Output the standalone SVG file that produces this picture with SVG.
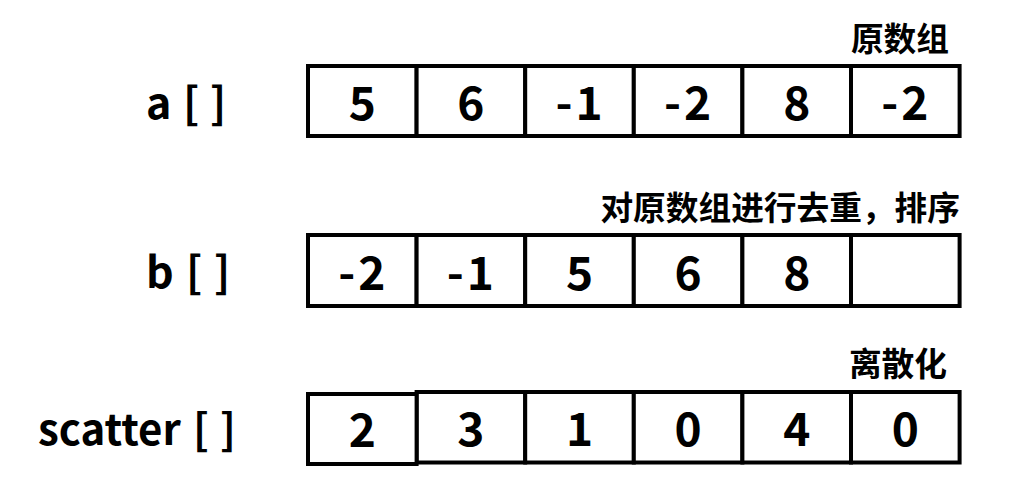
<svg xmlns="http://www.w3.org/2000/svg" width="1024" height="490" viewBox="0 0 1024 490">
<style>
.cell{fill:#fff;stroke:#000;stroke-width:4}
.num{font-family:"Noto Sans CJK SC","Noto Sans",sans-serif;font-weight:bold;font-size:46px;text-anchor:middle;fill:#000}
.lbl{font-family:"Noto Sans CJK SC","Noto Sans",sans-serif;font-weight:bold;font-size:43px;fill:#000}
.cap{font-family:"Noto Sans CJK SC",sans-serif;font-weight:bold;font-size:32.7px;text-anchor:end;fill:#000}
</style>
<rect width="1024" height="490" fill="#fff"/>
<g id="row-a">
<text class="lbl" y="119"><tspan x="146">a</tspan><tspan x="183">[</tspan><tspan x="210">]</tspan></text>
<text class="cap" x="949" y="51">原数组</text>
<rect class="cell" x="308" y="66" width="108.6" height="70"/>
<rect class="cell" x="416.6" y="66" width="108.6" height="70"/>
<rect class="cell" x="525.2" y="66" width="108.6" height="70"/>
<rect class="cell" x="633.8" y="66" width="108.6" height="70"/>
<rect class="cell" x="742.4" y="66" width="108.6" height="70"/>
<rect class="cell" x="851" y="66" width="108.6" height="70"/>
<text class="num" x="362.3" y="120">5</text>
<text class="num" x="470.9" y="120">6</text>
<text class="num" x="580.5" y="120" letter-spacing="3">-1</text>
<text class="num" x="689.1" y="120" letter-spacing="3">-2</text>
<text class="num" x="796.7" y="120">8</text>
<text class="num" x="906.3" y="120" letter-spacing="3">-2</text>
</g>
<g id="row-b">
<text class="lbl" y="288"><tspan x="146">b</tspan><tspan x="186">[</tspan><tspan x="214">]</tspan></text>
<text class="cap" x="960" y="220">对原数组进行去重，排序</text>
<rect class="cell" x="308" y="235" width="108.6" height="71"/>
<rect class="cell" x="416.6" y="235" width="108.6" height="71"/>
<rect class="cell" x="525.2" y="235" width="108.6" height="71"/>
<rect class="cell" x="633.8" y="235" width="108.6" height="71"/>
<rect class="cell" x="742.4" y="235" width="108.6" height="71"/>
<rect class="cell" x="851" y="235" width="108.6" height="71"/>
<text class="num" x="363.3" y="290" letter-spacing="3">-2</text>
<text class="num" x="471.9" y="290" letter-spacing="3">-1</text>
<text class="num" x="579.5" y="290">5</text>
<text class="num" x="688.1" y="290">6</text>
<text class="num" x="796.7" y="290">8</text>
</g>
<g id="row-scatter">
<text class="lbl" y="445" style="font-size:42px"><tspan x="38">scatter</tspan><tspan x="193">[</tspan><tspan x="220">]</tspan></text>
<text class="cap" x="947" y="376">离散化</text>
<rect class="cell" x="416.6" y="392" width="108.6" height="70.5"/>
<rect class="cell" x="525.2" y="392" width="108.6" height="70.5"/>
<rect class="cell" x="633.8" y="392" width="108.6" height="70.5"/>
<rect class="cell" x="742.4" y="392" width="108.6" height="70.5"/>
<rect class="cell" x="851" y="392" width="108.6" height="70.5"/>
<rect class="cell" x="308" y="394" width="108.6" height="70"/>
<text class="num" x="362.3" y="447">2</text>
<text class="num" x="470.9" y="446">3</text>
<text class="num" x="579.5" y="446">1</text>
<text class="num" x="688.1" y="446">0</text>
<text class="num" x="796.7" y="446">4</text>
<text class="num" x="905.3" y="446">0</text>
</g>
</svg>
